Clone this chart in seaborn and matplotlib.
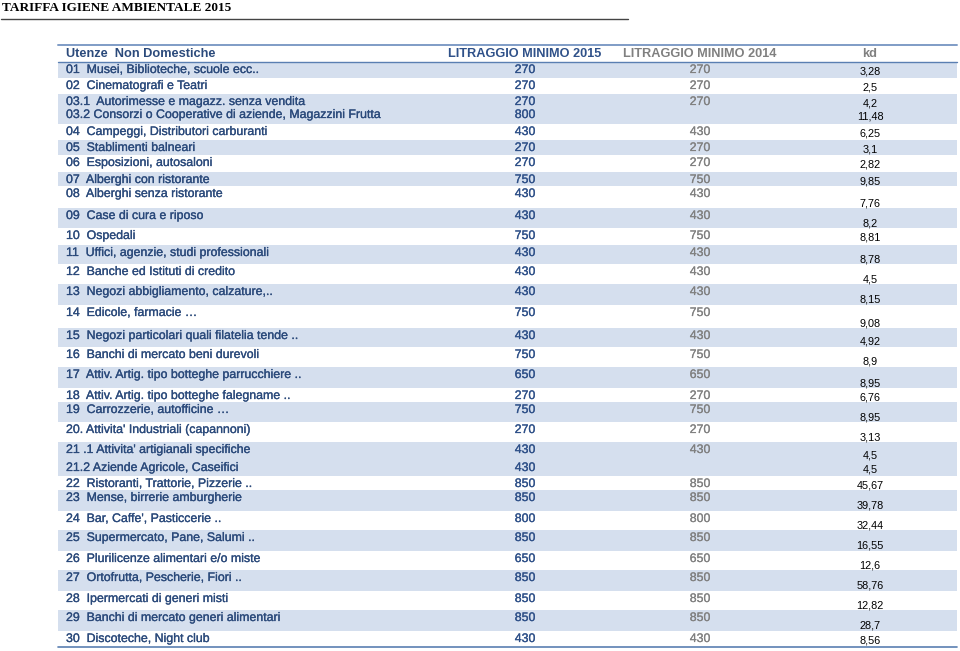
import numpy as np
import seaborn as sns
import matplotlib.pyplot as plt
import matplotlib.patheffects as pe

# table content
labels = [
    "01  Musei, Biblioteche, scuole ecc..",
    "02  Cinematografi e Teatri",
    "03.1  Autorimesse e magazz. senza vendita",
    "03.2 Consorzi o Cooperative di aziende, Magazzini Frutta",
    "04  Campeggi, Distributori carburanti",
    "05  Stablimenti balneari",
    "06  Esposizioni, autosaloni",
    "07  Alberghi con ristorante",
    "08  Alberghi senza ristorante",
    "09  Case di cura e riposo",
    "10  Ospedali",
    "11  Uffici, agenzie, studi professionali",
    "12  Banche ed Istituti di credito",
    "13  Negozi abbigliamento, calzature,..",
    "14  Edicole, farmacie \u2026",
    "15  Negozi particolari quali filatelia tende ..",
    "16  Banchi di mercato beni durevoli",
    "17  Attiv. Artig. tipo botteghe parrucchiere ..",
    "18  Attiv. Artig. tipo botteghe falegname ..",
    "19  Carrozzerie, autofficine \u2026",
    "20. Attivita' Industriali (capannoni)",
    "21 .1 Attivita' artigianali specifiche",
    "21.2 Aziende Agricole, Caseifici",
    "22  Ristoranti, Trattorie, Pizzerie ..",
    "23  Mense, birrerie amburgherie",
    "24  Bar, Caffe', Pasticcerie ..",
    "25  Supermercato, Pane, Salumi ..",
    "26  Plurilicenze alimentari e/o miste",
    "27  Ortofrutta, Pescherie, Fiori ..",
    "28  Ipermercati di generi misti",
    "29  Banchi di mercato generi alimentari",
    "30  Discoteche, Night club",
]
main_code = [1, 2, 3, 3, 4, 5, 6, 7, 8, 9, 10, 11, 12, 13, 14, 15, 16, 17, 18, 19,
             20, 21, 21, 22, 23, 24, 25, 26, 27, 28, 29, 30]
lit_2015 = [270, 270, 270, 800, 430, 270, 270, 750, 430, 430, 750, 430, 430, 430, 750, 430,
            750, 650, 270, 750, 270, 430, 430, 850, 850, 800, 850, 650, 850, 850, 850, 430]
lit_2014 = [270, 270, 270, None, 430, 270, 270, 750, 430, 430, 750, 430, 430, 430, 750, 430,
            750, 650, 270, 750, 270, 430, None, 850, 850, 800, 850, 650, 850, 850, 850, 430]
kd = [3.28, 2.5, 4.2, 11.48, 6.25, 3.1, 2.82, 9.85, 7.76, 8.2, 8.81, 8.78, 4.5, 8.15, 9.08,
      4.92, 8.9, 8.95, 6.76, 8.95, 3.13, 4.5, 4.5, 45.67, 39.78, 32.44, 16.55, 12.6, 58.76,
      12.82, 28.7, 8.56]
headers = ["Utenze  Non Domestiche", "LITRAGGIO MINIMO 2015", "LITRAGGIO MINIMO 2014", "kd"]
title = "TARIFFA IGIENE AMBIENTALE 2015"

# layout (pixels)
row_h = [16, 16, 13, 17, 16, 15, 17, 14, 22, 20, 17, 19, 20, 21, 23, 19, 20, 21, 14, 20,
         20, 18, 16, 14, 21, 19, 21, 19, 21, 19, 21, 16]
table_top, header_bottom = 45, 62
x_left, x_right = 58, 957
col_x = [66, 525, 700, 870]

sns.set_theme(style="white")
plt.rcParams["font.family"] = ["Liberation Sans", "DejaVu Sans"]

blue_txt = "#2b4a7b"
blue_num = "#2f5189"
grey_txt = "#808080"
shade = "#d5dfee"
line_col = "#5a7fb2"


def thick(c, w=0.2):
    return [pe.withStroke(linewidth=w, foreground=c)]


fig = plt.figure(figsize=(9.6, 6.51), dpi=100)
ax = fig.add_axes([0, 0, 1, 1])
ax.set_xlim(0, 960)
ax.set_ylim(651, 0)
ax.axis("off")

# title
ax.text(2, 8, title, family="Liberation Serif", fontweight="bold", fontsize=9.5,
        color="black", ha="left", va="center")
ax.plot([1, 628], [18.5, 18.5], color="#444444", lw=1.0)

# header
ax.plot([x_left, x_right], [table_top, table_top], color="#7f9cc6", lw=1.4)
ax.plot([x_left, x_right], [header_bottom, header_bottom], color=line_col, lw=1.0)
hy = (table_top + header_bottom) / 2 + 0.5
ax.text(col_x[0], hy, headers[0], color=blue_txt, fontweight="bold", fontsize=9.2,
        ha="left", va="center")
ax.text(col_x[1], hy, headers[1], color=blue_num, fontweight="bold", fontsize=9.2,
        ha="center", va="center")
ax.text(col_x[2], hy, headers[2], color=grey_txt, fontweight="bold", fontsize=9.2,
        ha="center", va="center")
ax.text(col_x[3], hy, headers[3], color=grey_txt, fontweight="bold", fontsize=9.2,
        ha="center", va="center")

# rows
bounds = header_bottom + np.concatenate([[0], np.cumsum(row_h)])
for i, lab in enumerate(labels):
    top, bot = bounds[i], bounds[i + 1]
    if main_code[i] % 2 == 1:
        ax.fill_between([x_left, x_right], top, bot, color=shade, lw=0, zorder=0)
    ty = top + 8
    ax.text(col_x[0], ty, lab, color=blue_txt, fontsize=8.9, ha="left", va="center",
            path_effects=thick(blue_txt))
    ax.text(col_x[1], ty, str(lit_2015[i]), color=blue_num, fontsize=8.9,
            ha="center", va="center", path_effects=thick(blue_num))
    if lit_2014[i] is not None:
        ax.text(col_x[2], ty, str(lit_2014[i]), color=grey_txt, fontsize=8.9,
                ha="center", va="center", path_effects=thick(grey_txt, 0.15))
    ky = bot - 5 if row_h[i] >= 18 else ty + 1.5
    ax.text(col_x[3], ky, f"{kd[i]:g}".replace(".", ","), color="black", fontsize=7.8,
            ha="center", va="center")

ax.plot([x_left, x_right], [bounds[-1], bounds[-1]], color=line_col, lw=1.2)

fig.savefig("out.png", dpi=100)
